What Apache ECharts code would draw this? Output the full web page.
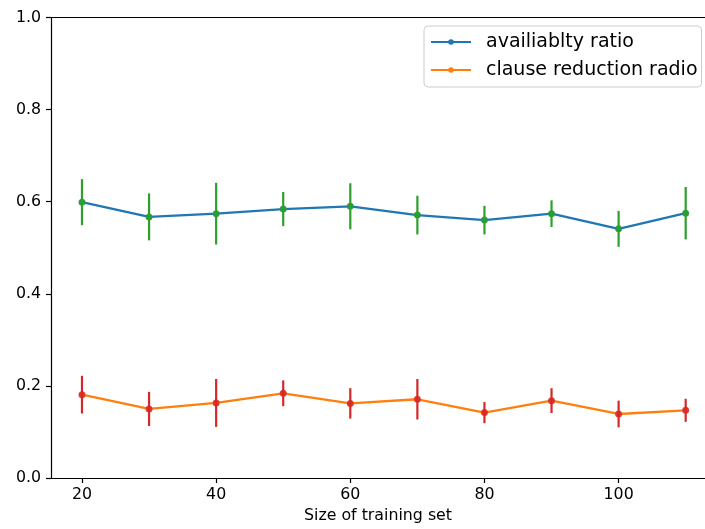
<!DOCTYPE html>
<html>
<head>
<meta charset="utf-8">
<script src="https://cdn.jsdelivr.net/npm/echarts@6/dist/echarts.min.js"></script>
<style>
  html, body { margin: 0; padding: 0; background: #fff; }
  #main { width: 705px; height: 529px; }
</style>
</head>
<body>
<div id="main"></div>
<script>
// values
const sizes = [20, 30, 40, 50, 60, 70, 80, 90, 100, 110]
const availability = [0.599, 0.567, 0.574, 0.584, 0.590, 0.571, 0.560, 0.574, 0.541, 0.575]
const availabilityErr = [0.050, 0.051, 0.067, 0.037, 0.050, 0.042, 0.031, 0.029, 0.039, 0.057]
const reduction = [0.181, 0.150, 0.163, 0.184, 0.162, 0.171, 0.142, 0.168, 0.139, 0.147]
const reductionErr = [0.041, 0.037, 0.052, 0.028, 0.033, 0.044, 0.023, 0.027, 0.029, 0.025]
const xTicks = [20, 40, 60, 80, 100]
const seriesNames = ['availiablty ratio', 'clause reduction radio']

const FONT = 'DejaVu Sans'
const TICK_SIZE = 15.8
// the figure is cropped on the right, so the axis runs past 110 up to the edge
const X_MIN = 15.38
const X_MAX = 112.88

// [x, y, err] rows for the error bar series
const toRows = (ys, errs) => sizes.map((x, i) => [x, ys[i], errs[i]])

// vertical error bar line
function errorBar(color) {
    return function (params, api) {
        const x = api.value(0)
        const y = api.value(1)
        const e = api.value(2)
        const top = api.coord([x, y + e])
        const bot = api.coord([x, y - e])
        return {
            type: 'line',
            shape: { x1: top[0], y1: top[1], x2: bot[0], y2: bot[1] },
            style: { stroke: color, lineWidth: 2.2 }
        }
    }
}

const axisLine = { show: true, lineStyle: { color: '#000', width: 1.2 } }

const option = {
    animation: false,
    grid: {
        left: 51,
        right: 0,
        top: 17.5,
        bottom: 50
    },
    legend: {
        data: seriesNames,
        orient: 'vertical',
        left: 424,
        top: 26,
        itemWidth: 40,
        itemHeight: 7,
        itemGap: 8,
        padding: [6, 4, 7, 6],
        borderColor: '#cccccc',
        borderWidth: 1,
        borderRadius: 4,
        backgroundColor: 'rgba(255,255,255,0.8)',
        textStyle: {
            fontFamily: FONT,
            fontSize: 19,
            color: '#000',
            lineHeight: 20,
            padding: [0, 0, 0, 10]
        }
    },
    xAxis: [
        {
            type: 'value',
            min: X_MIN,
            max: X_MAX,
            name: 'Size of training set',
            nameLocation: 'middle',
            nameGap: 30,
            nameTextStyle: { fontFamily: FONT, fontSize: TICK_SIZE, color: '#000' },
            splitLine: { show: false },
            axisLine: axisLine,
            axisTick: { show: true, length: 5, lineStyle: { color: '#000', width: 1.2 }, customValues: xTicks },
            axisLabel: { fontFamily: FONT, fontSize: TICK_SIZE, color: '#000', margin: 9, customValues: xTicks }
        },
        {
            // top spine only
            type: 'value',
            position: 'top',
            min: X_MIN,
            max: X_MAX,
            splitLine: { show: false },
            axisLine: axisLine,
            axisTick: { show: false },
            axisLabel: { show: false }
        }
    ],
    yAxis: {
        type: 'value',
        min: 0,
        max: 1,
        interval: 0.2,
        splitLine: { show: false },
        axisLine: axisLine,
        axisTick: { show: true, length: 5, lineStyle: { color: '#000', width: 1.2 } },
        axisLabel: {
            fontFamily: FONT, fontSize: TICK_SIZE, color: '#000', margin: 10,
            formatter: v => v.toFixed(1)
        }
    },
    series: [
        {
            name: seriesNames[0],
            type: 'line',
            data: sizes.map((x, i) => [x, availability[i]]),
            color: '#1f77b4',
            lineStyle: { width: 2.3 },
            symbol: 'circle',
            symbolSize: 6,
            showAllSymbol: true,
            z: 2
        },
        {
            name: seriesNames[1],
            type: 'line',
            data: sizes.map((x, i) => [x, reduction[i]]),
            color: '#ff7f0e',
            lineStyle: { width: 2.3 },
            symbol: 'circle',
            symbolSize: 6,
            showAllSymbol: true,
            z: 2
        },
        {
            type: 'custom',
            renderItem: errorBar('#2ca02c'),
            data: toRows(availability, availabilityErr),
            encode: { x: 0, y: 1 },
            z: 3
        },
        {
            type: 'scatter',
            data: sizes.map((x, i) => [x, availability[i]]),
            color: '#2ca02c',
            symbolSize: 7,
            z: 4
        },
        {
            type: 'custom',
            renderItem: errorBar('#d62728'),
            data: toRows(reduction, reductionErr),
            encode: { x: 0, y: 1 },
            z: 3
        },
        {
            type: 'scatter',
            data: sizes.map((x, i) => [x, reduction[i]]),
            color: '#d62728',
            symbolSize: 7,
            z: 4
        }
    ]
}

const myChart = echarts.init(document.getElementById('main'))
myChart.setOption(option)
</script>
</body>
</html>
